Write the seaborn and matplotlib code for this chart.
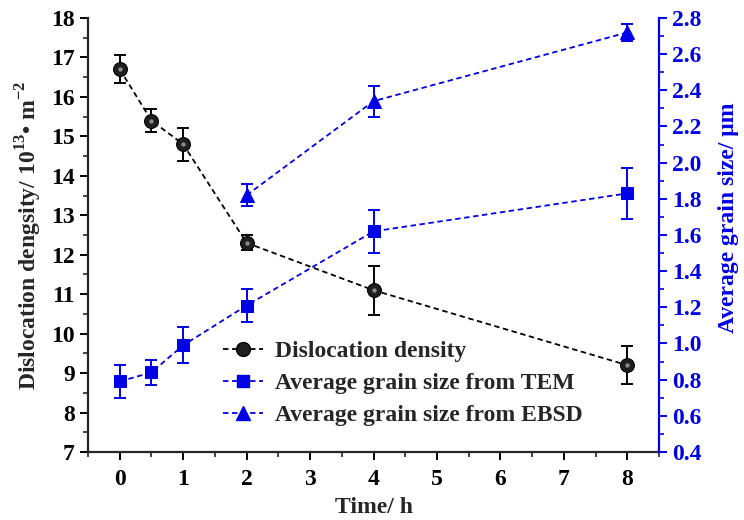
import numpy as np
import pandas as pd
import matplotlib
matplotlib.use("Agg")
import matplotlib.pyplot as plt
import seaborn as sns
from matplotlib.ticker import MultipleLocator, FormatStrFormatter
from matplotlib.lines import Line2D

time_h = [0, 0.5, 1, 2, 4, 8]
disloc = [16.7, 15.4, 14.8, 12.3, 11.1, 9.2]
disloc_err = [0.36, 0.29, 0.42, 0.19, 0.62, 0.48]
tem_size = [0.79, 0.84, 0.99, 1.21, 1.62, 1.83]
tem_err = [0.09, 0.07, 0.10, 0.09, 0.12, 0.14]
ebsd_time = [2, 4, 8]
ebsd_size = [1.82, 2.34, 2.72]
ebsd_err = [0.06, 0.085, 0.045]

sns.set_style("ticks")
plt.rcParams['font.family'] = ['Liberation Serif', 'DejaVu Serif']
plt.rcParams['font.weight'] = 'bold'
plt.rcParams['mathtext.fontset'] = 'custom'
plt.rcParams['mathtext.rm'] = 'Liberation Serif:bold'
plt.rcParams['mathtext.bf'] = 'Liberation Serif:bold'

FS = 17
BLUE = '#0000e6'
DASH = (0, (3, 2))
fig = plt.figure(figsize=(7.44, 5.20), dpi=100)
ax = fig.add_axes([0.1183, 0.1308, 0.7675, 0.8346])
ax2 = ax.twinx()

df1 = pd.DataFrame({'t': time_h, 'v': disloc})
df2 = pd.DataFrame({'t': time_h, 'v': tem_size})
df3 = pd.DataFrame({'t': ebsd_time, 'v': ebsd_size})

ax.errorbar(time_h, disloc, yerr=disloc_err, fmt='none', ecolor='black',
            elinewidth=1.4, capsize=4, capthick=1.4, zorder=2)
sns.lineplot(data=df1, x='t', y='v', ax=ax, color='black', linestyle=DASH,
             linewidth=1.3, marker='o', markersize=10, markerfacecolor='#1e1e1e',
             markeredgecolor='black', zorder=3, legend=False)
sns.scatterplot(data=df1, x='t', y='v', ax=ax, s=10, color='#8a8a8a',
                linewidth=0, zorder=4, legend=False)

ax2.errorbar(time_h, tem_size, yerr=tem_err, fmt='none', ecolor=BLUE,
             elinewidth=1.4, capsize=4, capthick=1.4, zorder=2)
sns.lineplot(data=df2, x='t', y='v', ax=ax2, color=BLUE, linestyle=DASH,
             linewidth=1.3, marker='s', markersize=9, markeredgecolor=BLUE,
             zorder=3, legend=False)
ax2.errorbar(ebsd_time, ebsd_size, yerr=ebsd_err, fmt='none', ecolor=BLUE,
             elinewidth=1.4, capsize=4, capthick=1.4, zorder=2)
sns.lineplot(data=df3, x='t', y='v', ax=ax2, color=BLUE, linestyle=DASH,
             linewidth=1.3, marker='^', markersize=10, markeredgecolor=BLUE,
             zorder=3, legend=False)

ax.set_xlim(-0.5, 8.5)
ax.set_ylim(7, 18)
ax2.set_ylim(0.4, 2.8)
ax.xaxis.set_major_locator(MultipleLocator(1))
ax.xaxis.set_minor_locator(MultipleLocator(0.5))
ax.yaxis.set_major_locator(MultipleLocator(1))
ax.yaxis.set_minor_locator(MultipleLocator(0.5))
ax2.yaxis.set_major_locator(MultipleLocator(0.2))
ax2.yaxis.set_minor_locator(MultipleLocator(0.1))
ax2.yaxis.set_major_formatter(FormatStrFormatter('%.1f'))

for a in (ax, ax2):
    a.spines['top'].set_visible(False)
ax.spines['left'].set_linewidth(1.6)
ax.spines['bottom'].set_linewidth(1.6)
ax.spines['right'].set_visible(False)
ax2.spines['left'].set_visible(False)
ax2.spines['bottom'].set_visible(False)
ax2.spines['right'].set_color(BLUE)
ax2.spines['right'].set_linewidth(1.6)

ax.tick_params(axis='both', which='major', direction='out', length=6, width=1.4,
               labelsize=FS, colors='black')
ax.tick_params(axis='x', which='major', pad=6)
ax.tick_params(axis='both', which='minor', direction='out', length=3.5, width=1.2)
ax2.tick_params(axis='y', which='major', direction='out', length=6, width=1.4,
                labelsize=FS, colors=BLUE)
ax2.tick_params(axis='y', which='minor', direction='out', length=3.5, width=1.2,
                colors=BLUE)
for lab in ax.get_xticklabels() + ax.get_yticklabels() + ax2.get_yticklabels():
    lab.set_fontweight('bold')

ax.set_xlabel('Time/ h', fontsize=FS, fontweight='bold', labelpad=5)
ax.set_ylabel(r'Dislocation dengsity/ 10$^{13}$• m$^{-2}$', fontsize=FS,
              fontweight='bold', labelpad=5)
ax2.set_ylabel('Average grain size/ μm', fontsize=FS, fontweight='bold',
               color=BLUE)
ax2.yaxis.set_label_coords(1.104, 0.54)

handles = [
    Line2D([], [], color='black', linestyle=DASH, linewidth=1.3, marker='o',
           markersize=10, markerfacecolor='#1e1e1e', markeredgecolor='black'),
    Line2D([], [], color=BLUE, linestyle=DASH, linewidth=1.3, marker='s',
           markersize=9),
    Line2D([], [], color=BLUE, linestyle=DASH, linewidth=1.3, marker='^',
           markersize=10),
]
labels = ['Dislocation density', 'Average grain size from TEM',
          'Average grain size from EBSD']
leg = ax2.legend(handles, labels, loc='center left', bbox_to_anchor=(0.300, 0.2625),
                 bbox_transform=fig.transFigure, frameon=False, borderpad=0,
                 borderaxespad=0, handlelength=1.7, handletextpad=0.5,
                 labelspacing=0.45,
                 prop={'family': 'Liberation Serif', 'weight': 'bold', 'size': FS})

fig.savefig('out.png', dpi=100)
